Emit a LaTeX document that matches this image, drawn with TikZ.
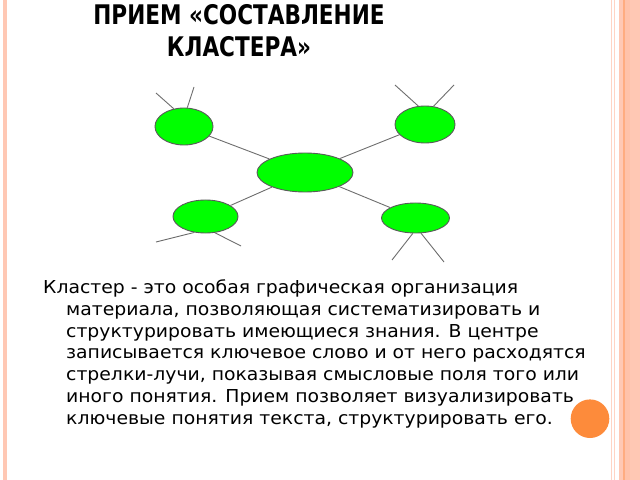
\documentclass[tikz,border=0pt]{standalone}
\usepackage{fontspec}
\setmainfont{DejaVu Sans}[FakeStretch=1.056]
\newfontfamily\titlefont[FakeStretch=0.80]{DejaVu Sans Bold}
\usetikzlibrary{shapes.geometric}
\definecolor{stripeA}{RGB}{255,212,196}
\definecolor{stripeB}{RGB}{255,200,180}
\definecolor{stripeC}{RGB}{255,172,128}
\definecolor{stripeD}{RGB}{255,194,170}
\definecolor{nodegreen}{RGB}{0,255,0}
\definecolor{edgegray}{RGB}{90,90,90}
\definecolor{raygray}{RGB}{110,110,110}
\definecolor{dotorange}{RGB}{253,139,59}
\tikzset{
  cluster/.style={ellipse, draw=edgegray, fill=nodegreen, line width=0.9bp, inner sep=0pt},
  link/.style={draw=raygray, line width=0.9bp},
  bodyline/.style={anchor=base west, inner sep=0pt, font=\fontsize{17.8bp}{21.8bp}\selectfont},
  titleline/.style={anchor=base, inner sep=0pt, font=\fontsize{27bp}{32bp}\selectfont\titlefont}
}
\begin{document}
\begin{tikzpicture}[x=1bp,y=-1bp]
\useasboundingbox (0,0) rectangle (640,480);
\fill[white] (0,0) rectangle (640,480);
% border stripes
\fill[stripeB] (3.3,0) rectangle (7.3,480);
\fill[stripeA] (611,0) rectangle (612.3,480);
\fill[stripeA] (613.8,0) rectangle (615,480);
\fill[stripeB] (618.6,0) rectangle (622.6,480);
\fill[stripeC] (622.6,0) rectangle (624.7,480);
\fill[stripeD] (624.7,0) rectangle (630,480);
\fill[stripeB] (630,0) rectangle (640,480);
% title
\node[titleline] (t1) at (239,25) {ПРИЕМ «СОСТАВЛЕНИЕ};
\node[titleline] (t2) at (239,57) {КЛАСТЕРА»};
% cluster nodes
\node[cluster, minimum width=96bp, minimum height=39bp] (c) at (305,172.5) {};
\node[cluster, minimum width=58bp, minimum height=37bp] (tl) at (184,126.5) {};
\node[cluster, minimum width=60bp, minimum height=37bp] (tr) at (425,124.5) {};
\node[cluster, minimum width=65bp, minimum height=33bp] (bl) at (205.5,216.5) {};
\node[cluster, minimum width=68bp, minimum height=30bp] (br) at (415.5,218) {};
% connectors to centre
\draw[link] (tl) -- (c);
\draw[link] (tr) -- (c);
\draw[link] (bl) -- (c);
\draw[link] (br) -- (c);
% free rays
\coordinate (tla) at (156,93);
\coordinate (tlb) at (194,87);
\coordinate (tra) at (395,85);
\coordinate (trb) at (454,85);
\coordinate (bla) at (156,242);
\coordinate (blb) at (241,246);
\coordinate (bra) at (392,260);
\coordinate (brb) at (444,262);
\draw[link] (tl.120) -- (tla);
\draw[link] (tl.80) -- (tlb);
\draw[link] (tr.110) -- (tra);
\draw[link] (tr.65) -- (trb);
\draw[link] (bl.235) -- (bla);
\draw[link] (bl.300) -- (blb);
\draw[link] (br.260) -- (bra);
\draw[link] (br.290) -- (brb);
% body text
\node[bodyline] (l1) at (43,293) {Кластер - это особая графическая организация};
\node[bodyline] (l2) at (66,315) {материала, позволяющая систематизировать и};
\node[bodyline] (l3) at (66,337) {структурировать имеющиеся знания. В центре};
\node[bodyline] (l4) at (66,358.5) {записывается ключевое слово и от него расходятся};
\node[bodyline] (l5) at (66,380.5) {стрелки-лучи, показывая смысловые поля того или};
\node[bodyline] (l6) at (66,402.5) {иного понятия. Прием позволяет визуализировать};
\node[bodyline] (l7) at (66,424) {ключевые понятия текста, структурировать его.};
% orange dot
\fill[dotorange] (590,418.7) circle (19.3);
\node[inner sep=0pt] (dot) at (590,418.7) {};
\end{tikzpicture}
\end{document}
